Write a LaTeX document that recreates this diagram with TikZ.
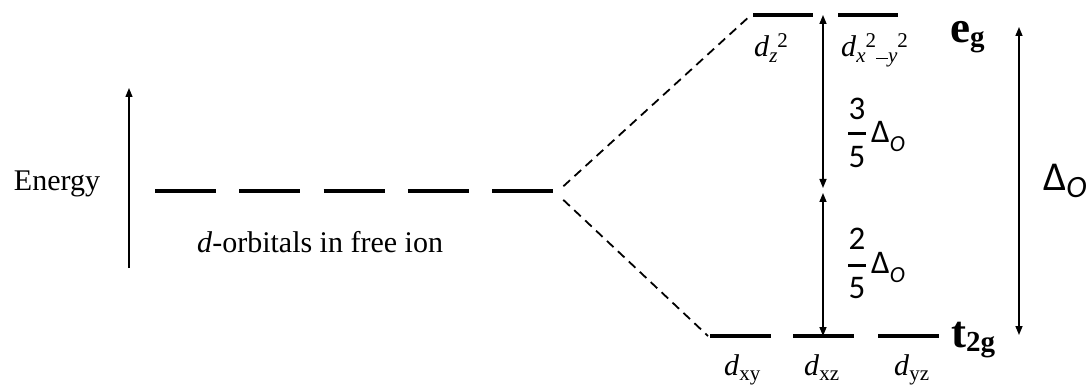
\documentclass[tikz,border=0pt]{standalone}
\usepackage{fontspec}
\setmainfont{Liberation Serif}
\newfontfamily\carl{Carlito}
\usetikzlibrary{arrows.meta}
\newcommand\shft[3]{\raisebox{#1}{\fontsize{#2}{#2}\selectfont #3}}
\begin{document}
\begin{tikzpicture}[x=1pt,y=-1pt,
  lvl/.style={line width=3.5pt},
  conn/.style={line width=1.8pt, dash pattern=on 9pt off 6pt},
  dbl/.style={line width=1.5pt,{Triangle[length=9pt,width=7pt]}-{Triangle[length=9pt,width=7pt]}},
  sgl/.style={line width=1.2pt,-{Triangle[length=9pt,width=7pt]}},
  lab/.style={inner sep=0pt, font=\fontsize{30}{30}\selectfont},
  frc/.style={inner sep=0pt, font=\carl\fontsize{33}{33}\selectfont},
  big/.style={inner sep=0pt, font=\bfseries\fontsize{45}{45}\selectfont}]
\useasboundingbox (0,0) rectangle (1088,385);

% free ion levels
\foreach \i in {0,...,4}
  \draw[lvl] ({155+84.3*\i},191) -- ++(61,0);
% e_g levels
\draw[lvl] (753,15) -- (813,15);
\draw[lvl] (838,15) -- (898,15);
% t_2g levels
\draw[lvl] (710,336) -- (771,336);
\draw[lvl] (793,336) -- (854,336);
\draw[lvl] (878,336) -- (939,336);

% named points
\coordinate (split) at (556,193);
\coordinate (egL) at (751,15);
\coordinate (tL) at (708,336);
\coordinate (mTop) at (823,15);
\coordinate (mMidA) at (823,188);
\coordinate (mMidB) at (823,193);
\coordinate (mBot) at (823,336);
\coordinate (rTop) at (1019,27);
\coordinate (rBot) at (1019,335);
\coordinate (eLow) at (129,268);
\coordinate (eHigh) at (129,88);

% dashed connectors
\draw[conn, shorten <=10pt] (split) -- (egL);
\draw[conn, shorten <=10pt] (split) -- (tL);

% arrows
\draw[sgl] (eLow) -- (eHigh);
\draw[dbl] (mMidA) -- (mTop);
\draw[dbl] (mBot) -- (mMidB);
\draw[dbl] (rBot) -- (rTop);

% texts
\node[lab, anchor=base] (energy) at (57,190) {Energy};
\node[lab, anchor=base west] (free) at (197,252) {\textit{d}-orbitals in free ion};

\node[lab, anchor=base west] (dz2) at (754,57)
  {\textit{d}\shft{-6pt}{21}{\textit{z}}\shft{9pt}{21}{2}};
\node[lab, anchor=base west] (dx2y2) at (841,57)
  {\textit{d}\shft{-6pt}{21}{\textit{x}}\shft{9pt}{21}{2}\shft{-6pt}{21}{\rule[4pt]{12pt}{1.3pt}\textit{y}}\shft{9pt}{21}{2}};

\node[lab, anchor=base west] (dxy) at (724,375) {\textit{d}\shft{-5pt}{21}{xy}};
\node[lab, anchor=base west] (dxz) at (804,375) {\textit{d}\shft{-5pt}{21}{xz}};
\node[lab, anchor=base west] (dyz) at (894,375) {\textit{d}\shft{-5pt}{21}{yz}};

\node[big, anchor=base west] (eg) at (950,43) {e\shft{-4pt}{29}{g}};
\node[big, anchor=base west] (t2g) at (951,347) {t\shft{-4pt}{29}{2g}};

% fractions
\node[frc, anchor=base] (n3) at (857,120) {3};
\draw[line width=3pt] (848,134) -- (866,134);
\node[frc, anchor=base] (d5a) at (857,168) {5};
\node[frc, anchor=base west] (dA) at (871,143) {Δ\shft{-9pt}{23}{\itshape O}};

\node[frc, anchor=base] (n2) at (857,249) {2};
\draw[line width=3pt] (848,265) -- (866,265);
\node[frc, anchor=base] (d5b) at (857,298) {5};
\node[frc, anchor=base west] (dB) at (871,273) {Δ\shft{-9pt}{23}{\itshape O}};

\node[inner sep=0pt, font=\carl\fontsize{41}{41}\selectfont, anchor=base west] (dR) at (1043,190) {Δ\shft{-8pt}{31}{\itshape O}};
\end{tikzpicture}
\end{document}
